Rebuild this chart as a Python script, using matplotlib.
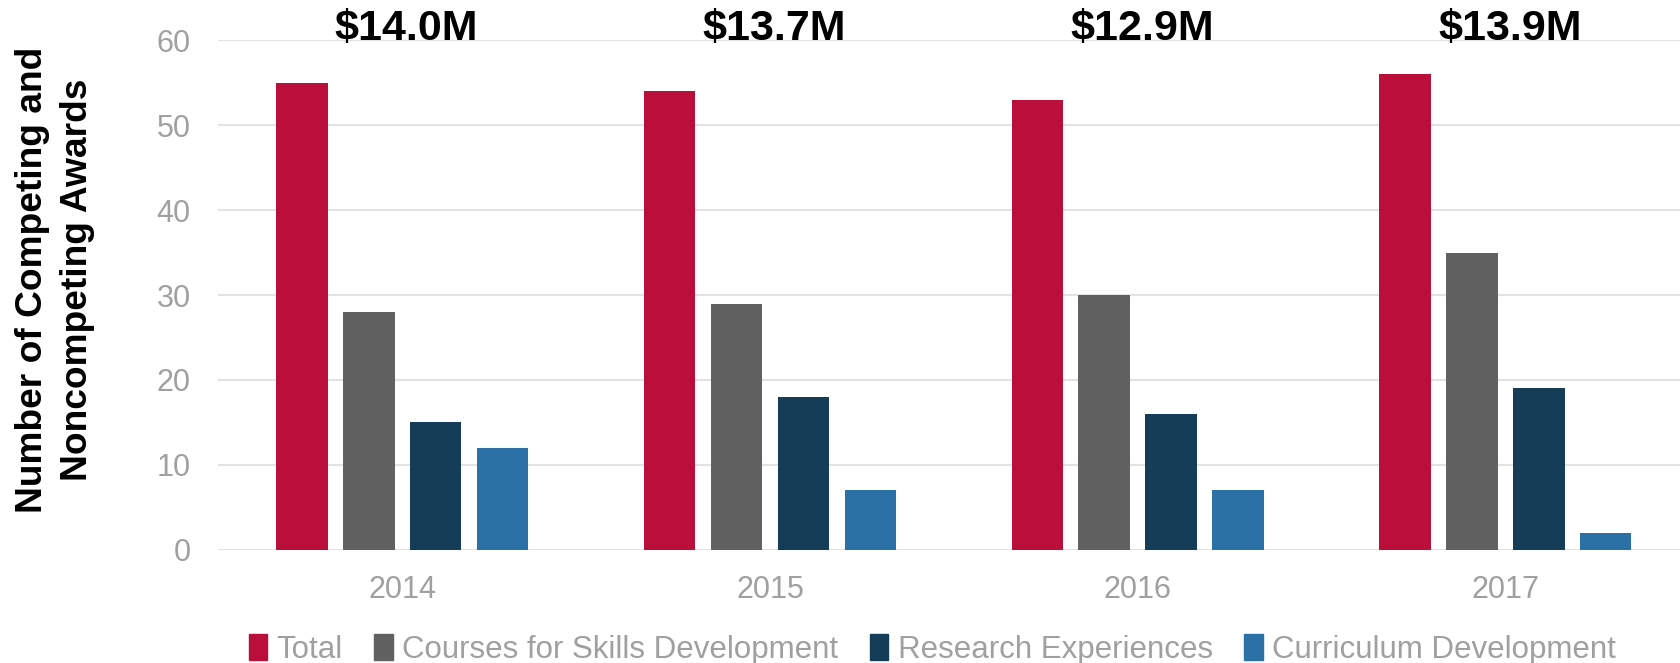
import numpy as np
import matplotlib.pyplot as plt
from matplotlib.patches import Patch

plt.rcParams['font.family'] = ['Liberation Sans', 'DejaVu Sans']

years = ['2014', '2015', '2016', '2017']
funding = ['$14.0M', '$13.7M', '$12.9M', '$13.9M']
series = ['Total', 'Courses for Skills Development', 'Research Experiences', 'Curriculum Development']
total = [55, 54, 53, 56]
courses = [28, 29, 30, 35]
research = [15, 18, 16, 19]
curriculum = [12, 7, 7, 2]
colors = ['#BA0F3B', '#616161', '#153D57', '#2C71A5']

fig = plt.figure(figsize=(16.8, 6.63), dpi=100)
ax = fig.add_axes([0.130, 0.171, 0.870, 0.768])

x = np.arange(len(years))
step = 0.182
width = 0.14
for i, vals in enumerate([total, courses, research, curriculum]):
    ax.bar(x + (i - 1.5) * step, vals, width, color=colors[i], zorder=3)

# funding totals above each year
for xi, lab in zip(x, funding):
    ax.text(xi + 0.012, 61.3, lab, ha='center', va='center', fontsize=31,
            fontweight='bold', color='black', clip_on=False)

ax.set_ylim(0, 60)
ax.set_xlim(-0.5, 3.475)
ax.set_yticks(range(0, 61, 10))
ax.set_xticks(x)
ax.set_xticklabels(years)
ax.tick_params(axis='both', length=0, labelcolor='#A0A0A0')
ax.tick_params(axis='x', pad=18, labelsize=22)
ax.tick_params(axis='y', pad=20, labelsize=22)
ax.grid(axis='y', color='#E3E3E3', lw=1.5, zorder=0)
for s in ax.spines.values():
    s.set_visible(False)

fig.text(0.0328, 0.578, 'Number of Competing and\nNoncompeting Awards', rotation=90,
         ha='center', va='center', fontsize=26.7, fontweight='bold',
         multialignment='center', linespacing=1.37)

handles = [Patch(color=c, label=s) for c, s in zip(colors, series)]
fig.legend(handles=handles, loc='center', bbox_to_anchor=(0.555, 0.02), ncol=4,
           frameon=False, fontsize=22.5, labelcolor='#A0A0A0', handlelength=0.6,
           handleheight=0.9, handletextpad=0.3, columnspacing=1.0)

fig.savefig('out.png', dpi=100)
